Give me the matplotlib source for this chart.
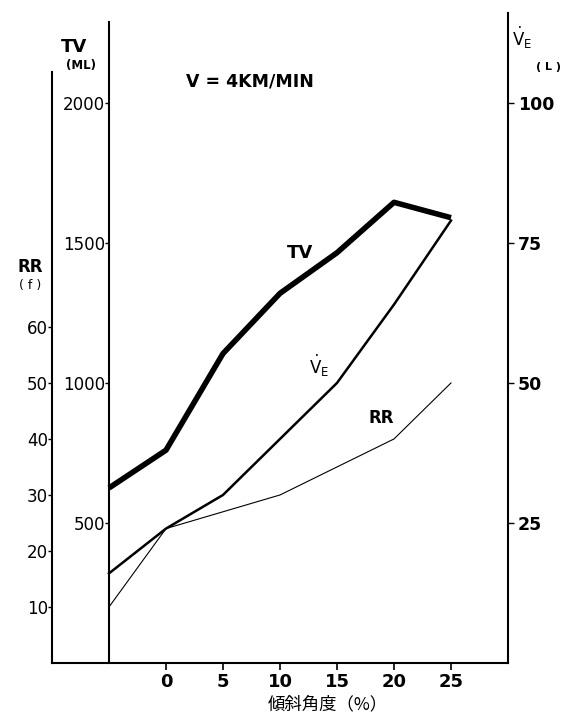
#!/usr/bin/env python3
"""
Recreate the TV / VE / RR vs incline chart (V = 4 km/min).
Three y scales share one baseline: RR (outer left), TV (inner left), VE (right).
"""

import matplotlib
matplotlib.use("Agg")
import matplotlib.pyplot as plt

plt.rcParams['font.family'] = ['DejaVu Sans', 'Noto Sans CJK JP']
plt.rcParams['mathtext.fontset'] = 'dejavusans'

# Data (x = incline %, -5 is the first point on the TV axis)
incline = [-5, 0, 5, 10, 15, 20, 25]
tv_ml = [625, 760, 1105, 1320, 1465, 1645, 1590]
ve_l = [16, 24, 30, 40, 50, 64, 79]
rr_f = [10, 24, 27, 30, 35, 40, 50]

x_ticks = [0, 5, 10, 15, 20, 25]
tv_ticks = [500, 1000, 1500, 2000]
ve_ticks = [25, 50, 75, 100]
rr_ticks = [10, 20, 30, 40, 50, 60]

W, H = 563, 717
fig = plt.figure(figsize=(W / 100, H / 100), dpi=100)

# axes box in pixels: left 52, right 508, bottom 663, top 13
ax = fig.add_axes([52 / W, (H - 663) / H, (508 - 52) / W, (663 - 13) / H])
ax.set_xlim(-10, 30)
tv_top = 2321
ax.set_ylim(0, tv_top)

ax_rr = ax.twinx()
ax_ve = ax.twinx()
for a in (ax_rr, ax_ve):
    a.set_ylim(0, tv_top / 20)

# --- lines
ax.plot(incline, tv_ml, color='black', lw=4.0, solid_joinstyle='round',
        solid_capstyle='butt', zorder=5)
ax_ve.plot(incline, ve_l, color='black', lw=1.8, zorder=5)
ax_rr.plot(incline, rr_f, color='black', lw=0.8, zorder=5)

# --- spines
for a in (ax, ax_rr, ax_ve):
    for s in a.spines.values():
        s.set_visible(False)
        s.set_linewidth(1.5)
    a.patch.set_visible(False)

ax.spines['bottom'].set_visible(True)
ax.spines['left'].set_visible(True)
ax.spines['left'].set_position(('data', -5))
ax.spines['left'].set_bounds(0, 2289)

ax_rr.spines['left'].set_visible(True)
ax_rr.spines['left'].set_position(('data', -10))
ax_rr.spines['left'].set_bounds(0, 105.5)
ax_rr.yaxis.set_ticks_position('left')

ax_ve.spines['right'].set_visible(True)
ax_ve.yaxis.set_ticks_position('right')

# --- ticks
ax.set_xticks(x_ticks)
ax.set_xticklabels([str(v) for v in x_ticks], fontsize=13, fontweight='bold')
ax.tick_params(axis='x', direction='out', length=5, width=1.2, pad=2)

ax.set_yticks(tv_ticks)
ax.set_yticklabels([str(v) for v in tv_ticks], fontsize=12)
ax.tick_params(axis='y', direction='out', length=3, width=1.0, pad=0)

ax_rr.set_yticks(rr_ticks)
ax_rr.set_yticklabels([str(v) for v in rr_ticks], fontsize=12)
ax_rr.tick_params(axis='y', direction='out', length=3, width=1.0, pad=0)

ax_ve.set_yticks(ve_ticks)
ax_ve.set_yticklabels([str(v) for v in ve_ticks], fontsize=12.5, fontweight='bold')
ax_ve.tick_params(axis='y', direction='out', length=4, width=1.0, pad=3)


def px_text(px, py, s, **kw):
    fig.text(px / W, 1 - py / H, s, ha='center', va='center', **kw)


# --- axis titles
px_text(74, 47, 'TV', fontsize=13, fontweight='bold')
px_text(81, 66, '(ML)', fontsize=8.5, fontweight='bold')
px_text(30, 267, 'RR', fontsize=12, fontweight='bold')
px_text(30, 285, '( f )', fontsize=9)
px_text(522, 38, r'$\dot{\mathrm{V}}_{\mathrm{E}}$', fontsize=12)
px_text(548, 67, '( L )', fontsize=8, fontweight='bold')
px_text(250, 82, 'V = 4KM/MIN', fontsize=12.5, fontweight='bold')

# --- curve labels
px_text(300, 253, 'TV', fontsize=13, fontweight='bold')
px_text(319, 366, r'$\dot{\mathrm{V}}_{\mathrm{E}}$', fontsize=12)
px_text(381, 418, 'RR', fontsize=12, fontweight='bold')

# x axis label
fig.text(328 / W, 1 - 704 / H, '傾斜角度（%）', ha='center', va='center',
         fontsize=12.5, family=['Noto Sans CJK JP', 'DejaVu Sans'])

fig.savefig('out.png', dpi=100)
